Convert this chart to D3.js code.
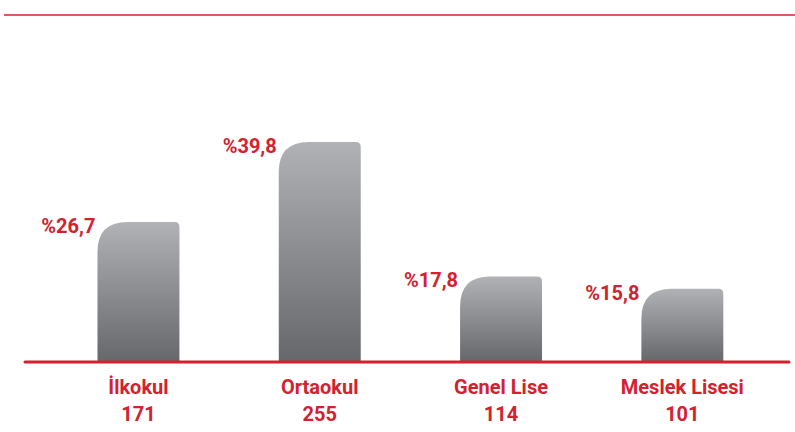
<!DOCTYPE html>
<html><head><meta charset="utf-8">
<script src="https://cdn.jsdelivr.net/npm/d3@7"></script>
<style>html,body{margin:0;padding:0;background:#fff;}svg{display:block;}</style>
</head><body>
<svg id="chart" width="795" height="432"></svg>
<script>
const categories = ["İlkokul", "Ortaokul", "Genel Lise", "Meslek Lisesi"];
const counts = [171, 255, 114, 101];
const percents = [26.7, 39.8, 17.8, 15.8];
const percentLabels = ["%26,7", "%39,8", "%17,8", "%15,8"];

const red = "#d3222f";
const svg = d3.select("#chart");
const baseY = 362;

const x = d3.scaleBand().domain(categories).range([47.8, 773]).paddingInner(0.548).paddingOuter(0.274);
const y = d3.scaleLinear().domain([3.8, 39.8]).range([baseY, 142]);

const defs = svg.append("defs");
const grad = defs.append("linearGradient").attr("id", "barGrad")
  .attr("x1", 0).attr("y1", 0).attr("x2", 0).attr("y2", 1);
grad.append("stop").attr("offset", "0%").attr("stop-color", "#b1b2b5");
grad.append("stop").attr("offset", "100%").attr("stop-color", "#66676a");

// top rule
svg.append("line").attr("x1", 4).attr("x2", 795).attr("y1", 15).attr("y2", 15)
  .attr("stroke", red).attr("stroke-width", 1.6);

function barPath(x0, w, top, bottom) {
  const rl = 30, rr = 5;
  return `M${x0},${bottom} L${x0},${top + rl} Q${x0},${top} ${x0 + rl},${top} L${x0 + w - rr},${top} Q${x0 + w},${top} ${x0 + w},${top + rr} L${x0 + w},${bottom} Z`;
}

const data = categories.map((c, i) => ({c, n: counts[i], p: percents[i], pl: percentLabels[i]}));

svg.selectAll("path.bar").data(data).enter().append("path").attr("class", "bar")
  .attr("d", d => barPath(x(d.c), x.bandwidth(), y(d.p), baseY))
  .attr("fill", "url(#barGrad)");

// baseline
svg.append("line").attr("x1", 25).attr("x2", 789).attr("y1", baseY).attr("y2", baseY)
  .attr("stroke", red).attr("stroke-width", 3).attr("stroke-linecap", "round");

const font = "Roboto, 'Noto Sans', sans-serif";

svg.selectAll("text.pct").data(data).enter().append("text").attr("class", "pct")
  .attr("x", d => x(d.c) - 2).attr("y", d => y(d.p) + 11)
  .attr("text-anchor", "end").attr("fill", red)
  .attr("font-family", font).attr("font-weight", 700).attr("font-size", 20)
  .text(d => d.pl);

svg.selectAll("text.cat").data(data).enter().append("text").attr("class", "cat")
  .attr("x", d => x(d.c) + x.bandwidth() / 2).attr("y", 394)
  .attr("text-anchor", "middle").attr("fill", red)
  .attr("font-family", font).attr("font-weight", 700).attr("font-size", 20)
  .text(d => d.c);

svg.selectAll("text.cnt").data(data).enter().append("text").attr("class", "cnt")
  .attr("x", d => x(d.c) + x.bandwidth() / 2).attr("y", 421)
  .attr("text-anchor", "middle").attr("fill", red)
  .attr("font-family", font).attr("font-weight", 700).attr("font-size", 20)
  .text(d => d.n);
</script>
</body></html>
